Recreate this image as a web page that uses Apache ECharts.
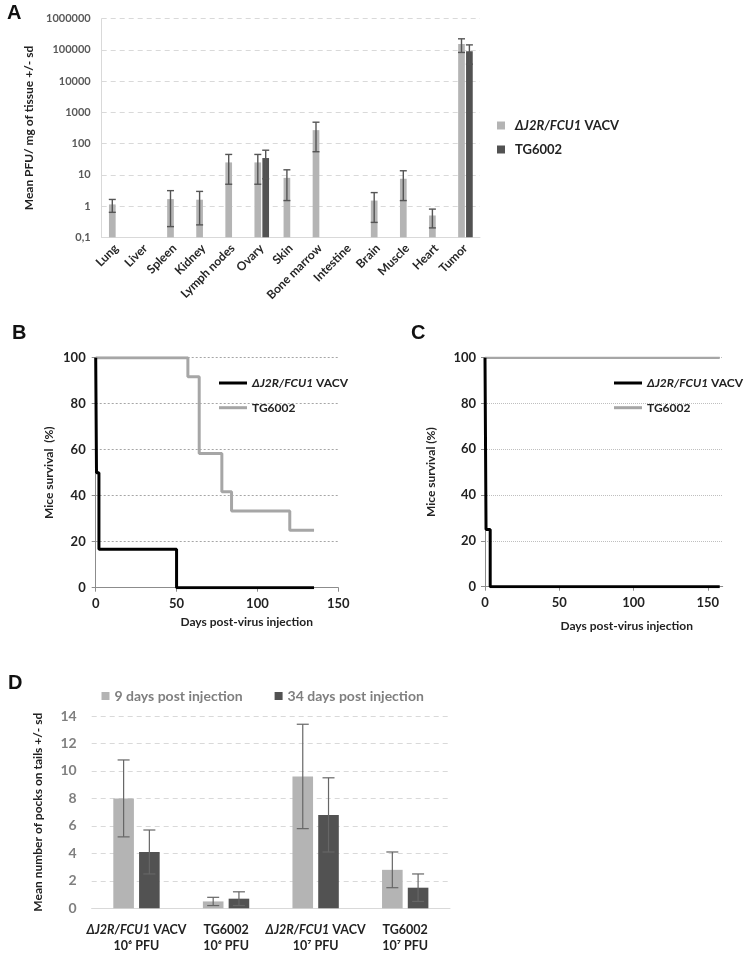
<!DOCTYPE html>
<html><head><meta charset="utf-8">
<script src="https://cdn.jsdelivr.net/npm/echarts@6/dist/echarts.min.js"></script>
<style>html,body{margin:0;padding:0;background:#fff}#c{width:746px;height:957px}</style>
</head><body><div id="c"></div>
<script>
// ---------- Panel A: virus titers in tissues (log scale) ----------
const tissues = ['Lung','Liver','Spleen','Kidney','Lymph nodes','Ovary','Skin','Bone marrow','Intestine','Brain','Muscle','Heart','Tumor'];
const aVacvMean = [1.13, null, 1.67, 1.6, 25, 25, 8, 270, null, 1.5, 7.5, 0.5, 155000];
const aVacvSd   = [0.5, null, 1.45, 1.35, 20, 20, 6.5, 215, null, 1.2, 6, 0.3, 72000];
const aTgMean   = [null, null, null, null, null, 34.5, null, null, null, null, null, null, 90000];
const aTgSd     = [null, null, null, null, null, 27, null, null, null, null, null, null, 55000];

// ---------- Panel B: survival ----------
const bVacvDays = [0, 0.5, 2, 50, 135];
const bVacvSurv = [100, 50, 16.7, 0, 0];
const bTgDays = [0, 57, 64, 78, 84, 120, 135];
const bTgSurv = [100, 91.7, 58.3, 41.7, 33.3, 25, 25];

// ---------- Panel C: survival ----------
const cVacvDays = [0, 0.7, 3.5, 158];
const cVacvSurv = [100, 25, 0, 0];
const cTgDays = [0, 158];
const cTgSurv = [100, 100];

// ---------- Panel D: pocks on tails ----------
const dVirus = ['ΔJ2R/FCU1 VACV', 'TG6002', 'ΔJ2R/FCU1 VACV', 'TG6002'];
const dDose = ['10⁶ PFU', '10⁶ PFU', '10⁷ PFU', '10⁷ PFU'];
const d9Mean = [8.0, 0.5, 9.6, 2.8];
const d9Sd = [2.8, 0.3, 3.8, 1.3];
const d34Mean = [4.1, 0.7, 6.8, 1.5];
const d34Sd = [1.6, 0.5, 2.7, 1.0];

const nameVacv = 'ΔJ2R/FCU1 VACV';
const nameTg = 'TG6002';
const name9 = '9 days post injection';
const name34 = '34 days post injection';

const F = 'Lato, "DejaVu Sans", sans-serif';
const LIGHT = '#b4b4b4', DARK = '#525252';
const A_MIN = 0.1;

function pairs(xs, ys) { return xs.map((x, i) => [x, ys[i]]); }

function errSeries(xi, yi, means, sds, frac, capHalf, color, lw) {
  const data = [];
  means.forEach((m, i) => { if (m != null) data.push([i, m - sds[i], m + sds[i]]); });
  return {
    type: 'custom', xAxisIndex: xi, yAxisIndex: yi, silent: true, z: 5,
    encode: { x: 0, y: [1, 2] },
    data: data,
    renderItem: function (params, api) {
      const i = api.value(0);
      const lo = api.coord([i, api.value(1)]);
      const hi = api.coord([i, api.value(2)]);
      const bw = api.size([1, 1], [i, 10])[0];
      const x = lo[0] + bw * frac;
      const st = { stroke: color, lineWidth: lw };
      return { type: 'group', children: [
        { type: 'line', shape: { x1: x, y1: lo[1], x2: x, y2: hi[1] }, style: st },
        { type: 'line', shape: { x1: x - capHalf, y1: lo[1], x2: x + capHalf, y2: lo[1] }, style: st },
        { type: 'line', shape: { x1: x - capHalf, y1: hi[1], x2: x + capHalf, y2: hi[1] }, style: st }
      ]};
    }
  };
}

// bars on the log axis drawn from the axis minimum
function logBarSeries(name, xi, yi, means, frac, widthFrac, color) {
  const data = [];
  means.forEach((m, i) => { if (m != null) data.push([i, m]); });
  return {
    name: name, type: 'custom', xAxisIndex: xi, yAxisIndex: yi, silent: true, z: 2,
    encode: { x: 0, y: 1 }, itemStyle: { color: color },
    data: data,
    renderItem: function (params, api) {
      const i = api.value(0);
      const top = api.coord([i, api.value(1)]);
      const base = api.coord([i, A_MIN]);
      const bw = api.size([1, 1], [i, 10])[0];
      const w = bw * widthFrac;
      const cx = top[0] + bw * frac;
      return { type: 'rect', shape: { x: cx - w / 2, y: top[1], width: w, height: base[1] - top[1] }, style: { fill: color } };
    }
  };
}

function legendFmt(name) {
  const n = name.replace(/^[A-D]:/, '');
  if (n.indexOf('ΔJ2R/FCU1') === 0) return '{i|ΔJ2R/FCU1}' + n.slice(9);
  return n;
}

const richItalic = { i: { fontStyle: 'italic', fontWeight: 'bold', fontFamily: F, fontSize: 13, color: '#222' } };

const chart = echarts.init(document.getElementById('c'));
const option = {
  animation: false,
  backgroundColor: '#fff',
  textStyle: { fontFamily: F },
  grid: [
    { left: 101.7, top: 18.7, width: 378.3, height: 218.6 },
    { left: 95.7, top: 357.7, width: 242.6, height: 230 },
    { left: 485, top: 357.7, width: 237.7, height: 229 },
    { left: 91.7, top: 716, width: 358.3, height: 192.3 }
  ],
  legend: [
    { data: [{ name: 'A:' + nameVacv, itemStyle: { color: LIGHT } }, { name: 'A:' + nameTg, itemStyle: { color: DARK } }],
      orient: 'vertical', left: 497, top: 119, icon: 'rect', padding: 0,
      itemWidth: 8, itemHeight: 8, itemGap: 11, formatter: legendFmt, selectedMode: false,
      textStyle: { fontFamily: F, fontWeight: 'bold', fontSize: 13, color: '#222', padding: [0, 0, 0, 5], rich: richItalic } },
    { data: ['B:' + nameVacv, 'B:' + nameTg], orient: 'vertical', left: 219, top: 377, icon: 'rect', padding: 0,
      itemWidth: 28, itemHeight: 3, itemGap: 12.7, formatter: legendFmt, selectedMode: false,
      textStyle: { fontFamily: F, fontWeight: 'bold', fontSize: 12, color: '#222', rich: { i: Object.assign({}, richItalic.i, { fontSize: 12 }) } } },
    { data: ['C:' + nameVacv, 'C:' + nameTg], orient: 'vertical', left: 614, top: 377, icon: 'rect', padding: 0,
      itemWidth: 28, itemHeight: 3, itemGap: 12.7, formatter: legendFmt, selectedMode: false,
      textStyle: { fontFamily: F, fontWeight: 'bold', fontSize: 12, color: '#222', rich: { i: Object.assign({}, richItalic.i, { fontSize: 12 }) } } },
    { data: ['D:' + name9, 'D:' + name34], orient: 'horizontal', left: 101.5, top: 689, icon: 'rect', padding: 0,
      itemWidth: 8, itemHeight: 8, itemGap: 32, formatter: legendFmt, selectedMode: false,
      textStyle: { fontFamily: F, fontWeight: 'bold', fontSize: 14, color: '#7f7f7f' } }
  ],
  xAxis: [
    { type: 'category', gridIndex: 0, data: tissues,
      axisLine: { lineStyle: { color: '#d9d9d9', width: 1 } }, axisTick: { show: false },
      axisLabel: { interval: 0, rotate: 45, margin: 9, fontFamily: F, fontWeight: 'bold', fontSize: 12, color: '#262626' } },
    { type: 'value', gridIndex: 1, min: 0, max: 150, interval: 50,
      axisLine: { lineStyle: { color: '#8c8c8c', width: 1 } },
      axisTick: { show: true, length: 4, lineStyle: { color: '#8c8c8c' } },
      splitLine: { show: false },
      axisLabel: { margin: 10, fontFamily: F, fontWeight: 'bold', fontSize: 13, color: '#222' } },
    { type: 'value', gridIndex: 2, min: 0, max: 160, interval: 50,
      axisLine: { lineStyle: { color: '#8c8c8c', width: 1 } },
      axisTick: { show: true, length: 4, lineStyle: { color: '#8c8c8c' }, customValues: [0, 50, 100, 150] },
      splitLine: { show: false },
      axisLabel: { margin: 10, fontFamily: F, fontWeight: 'bold', fontSize: 13, color: '#222', customValues: [0, 50, 100, 150] } },
    { type: 'category', gridIndex: 3, data: dVirus.map((v, i) => v + '\n' + dDose[i]),
      axisLine: { lineStyle: { color: '#d9d9d9', width: 1 } }, axisTick: { show: false },
      axisLabel: { interval: 0, margin: 14, fontFamily: F, fontWeight: 'bold', fontSize: 12, color: '#222', lineHeight: 16,
        formatter: function (v) {
          const parts = v.split('\n');
          let first = parts[0].indexOf('ΔJ2R/FCU1') === 0 ? '{i|ΔJ2R/FCU1}{b|' + parts[0].slice(9) + '}' : '{b|' + parts[0] + '}';
          return first + '\n{b|' + parts[1] + '}';
        },
        rich: { i: { fontStyle: 'italic', fontWeight: 'bold', fontFamily: F, fontSize: 12.5, color: '#222', lineHeight: 16 },
                b: { fontWeight: 'bold', fontFamily: F, fontSize: 12.5, color: '#222', lineHeight: 16 } } } }
  ],
  yAxis: [
    { type: 'log', gridIndex: 0, min: A_MIN, max: 1000000, logBase: 10, splitNumber: 7,
      name: 'Mean PFU/ mg of tissue +/- sd', nameLocation: 'middle', nameGap: 55,
      nameTextStyle: { fontFamily: F, fontWeight: 'bold', fontSize: 12, color: '#222' },
      axisLine: { show: true, lineStyle: { color: '#d9d9d9' } }, axisTick: { show: false },
      splitLine: { show: true, lineStyle: { color: '#d9d9d9', type: [5, 4], width: 1 } },
      axisLabel: { margin: 11, fontFamily: F, fontWeight: 'bold', fontSize: 11, color: '#595959',
        formatter: function (v) { return v < 1 ? '0,1' : String(Math.round(v)); } } },
    { type: 'value', gridIndex: 1, min: 0, max: 100, interval: 20,
      name: 'Mice survival  (%)', nameLocation: 'middle', nameGap: 41,
      nameTextStyle: { fontFamily: F, fontWeight: 'bold', fontSize: 12, color: '#222' },
      axisLine: { show: true, lineStyle: { color: '#8c8c8c' } },
      axisTick: { show: true, length: 4, lineStyle: { color: '#8c8c8c' } },
      splitLine: { show: true, lineStyle: { color: '#a6a6a6', type: [2, 2], width: 1 } },
      axisLabel: { margin: 10, fontFamily: F, fontWeight: 'bold', fontSize: 13, color: '#222' } },
    { type: 'value', gridIndex: 2, min: 0, max: 100, interval: 20,
      name: 'Mice survival (%)', nameLocation: 'middle', nameGap: 48,
      nameTextStyle: { fontFamily: F, fontWeight: 'bold', fontSize: 12, color: '#222' },
      axisLine: { show: true, lineStyle: { color: '#8c8c8c' } },
      axisTick: { show: true, length: 4, lineStyle: { color: '#8c8c8c' } },
      splitLine: { show: true, lineStyle: { color: '#bfbfbf', type: [1, 1], width: 1 } },
      axisLabel: { margin: 9, fontFamily: F, fontWeight: 'bold', fontSize: 13, color: '#222' } },
    { type: 'value', gridIndex: 3, min: 0, max: 14, interval: 2,
      name: 'Mean number of pocks on tails +/- sd', nameLocation: 'middle', nameGap: 48,
      nameTextStyle: { fontFamily: F, fontWeight: 'bold', fontSize: 12, color: '#222' },
      axisLine: { show: false }, axisTick: { show: false },
      splitLine: { show: true, lineStyle: { color: '#d9d9d9', type: [5, 4], width: 1 } },
      axisLabel: { margin: 15, fontFamily: F, fontWeight: 'bold', fontSize: 14, color: '#7f7f7f' } }
  ],
  series: [
    logBarSeries('A:' + nameVacv, 0, 0, aVacvMean, -0.1357, 0.23, LIGHT),
    logBarSeries('A:' + nameTg, 0, 0, aTgMean, 0.1357, 0.23, DARK),
    errSeries(0, 0, aVacvMean, aVacvSd, -0.1357, 3.5, '#555', 1.4),
    errSeries(0, 0, aTgMean, aTgSd, 0.1357, 3.5, '#555', 1.4),

    { name: 'B:' + nameTg, type: 'line', xAxisIndex: 1, yAxisIndex: 1, step: 'end', data: pairs(bTgDays, bTgSurv),
      symbol: 'none', lineStyle: { color: '#a6a6a6', width: 3 }, itemStyle: { color: '#a6a6a6' }, silent: true, z: 3 },
    { name: 'B:' + nameVacv, type: 'line', xAxisIndex: 1, yAxisIndex: 1, step: 'end', data: pairs(bVacvDays, bVacvSurv),
      symbol: 'none', lineStyle: { color: '#000', width: 3 }, itemStyle: { color: '#000' }, silent: true, z: 4 },

    { name: 'C:' + nameTg, type: 'line', xAxisIndex: 2, yAxisIndex: 2, step: 'end', data: pairs(cTgDays, cTgSurv),
      symbol: 'none', lineStyle: { color: '#a6a6a6', width: 2.5 }, itemStyle: { color: '#a6a6a6' }, silent: true, z: 3 },
    { name: 'C:' + nameVacv, type: 'line', xAxisIndex: 2, yAxisIndex: 2, step: 'end', data: pairs(cVacvDays, cVacvSurv),
      symbol: 'none', lineStyle: { color: '#000', width: 3 }, itemStyle: { color: '#000' }, silent: true, z: 4 },

    { name: 'D:' + name9, type: 'bar', xAxisIndex: 3, yAxisIndex: 3, data: d9Mean, itemStyle: { color: LIGHT },
      barWidth: '23%', barGap: '25%', silent: true },
    { name: 'D:' + name34, type: 'bar', xAxisIndex: 3, yAxisIndex: 3, data: d34Mean, itemStyle: { color: DARK },
      barWidth: '23%', barGap: '25%', silent: true },
    errSeries(3, 3, d9Mean, d9Sd, -0.14375, 6, '#666', 1.2),
    errSeries(3, 3, d34Mean, d34Sd, 0.14375, 6, '#666', 1.2)
  ],
  graphic: [
    { type: 'text', left: 7, top: 3, style: { text: 'A', font: 'bold 20px "Liberation Sans", Arial, sans-serif', fill: '#111' } },
    { type: 'text', left: 12, top: 323, style: { text: 'B', font: 'bold 20px "Liberation Sans", Arial, sans-serif', fill: '#111' } },
    { type: 'text', left: 411, top: 323, style: { text: 'C', font: 'bold 20px "Liberation Sans", Arial, sans-serif', fill: '#111' } },
    { type: 'text', left: 8, top: 673, style: { text: 'D', font: 'bold 20px "Liberation Sans", Arial, sans-serif', fill: '#111' } },
    { type: 'text', x: 246.7, y: 621.7, style: { text: 'Days post-virus injection', font: 'bold 12px Lato, "DejaVu Sans", sans-serif', fill: '#222', align: 'center', verticalAlign: 'middle' } },
    { type: 'text', x: 626.7, y: 625.7, style: { text: 'Days post-virus injection', font: 'bold 12px Lato, "DejaVu Sans", sans-serif', fill: '#222', align: 'center', verticalAlign: 'middle' } }
  ]
};
chart.setOption(option);
</script>
</body></html>
